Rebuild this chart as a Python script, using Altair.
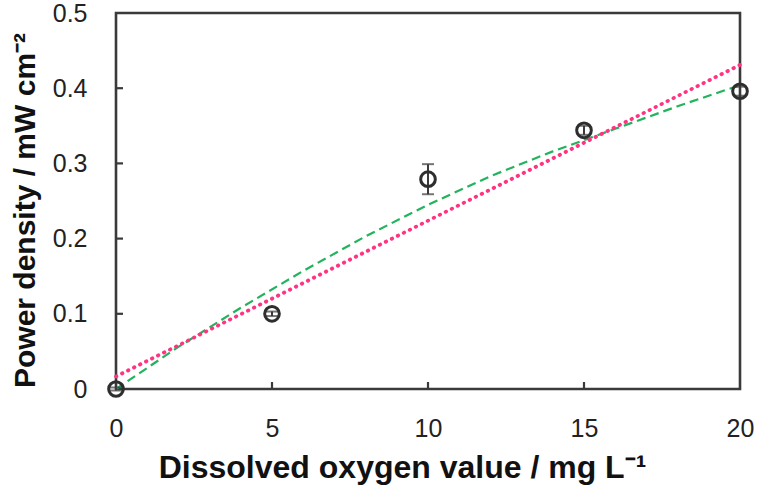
import altair as alt
import pandas as pd

# Measured power density against dissolved oxygen
oxygen = [0, 5, 10, 15, 20]
power = [0.0, 0.100, 0.279, 0.344, 0.396]
power_err = [0.002, 0.003, 0.020, 0.006, 0.006]

# Fitted trend curve (green dashed)
curve_x = [0, 2, 4, 6, 8, 10, 12, 14, 16, 18, 20]
curve_y = [0.0, 0.056, 0.108, 0.157, 0.203, 0.245, 0.283, 0.316, 0.346, 0.376, 0.404]

x_tick_values = [0, 5, 10, 15, 20]
y_tick_values = [0, 0.1, 0.2, 0.3, 0.4, 0.5]
x_inner_ticks = [5, 10, 15]
y_inner_ticks = [0.1, 0.2, 0.3, 0.4]

W, H = 624, 376
FONT = "Liberation Sans, Arial, sans-serif"
INK = "#3a3a3a"

points = pd.DataFrame({
    "x": oxygen,
    "y": power,
    "lo": [p - e for p, e in zip(power, power_err)],
    "hi": [p + e for p, e in zip(power, power_err)],
})
curve = pd.DataFrame({"x": curve_x, "y": curve_y})
xt = pd.DataFrame({"x": x_inner_ticks})
yt = pd.DataFrame({"y": y_inner_ticks})

xs = alt.Scale(domain=[0, 20], nice=False, zero=False)
ys = alt.Scale(domain=[0, 0.5], nice=False, zero=False)

x_axis = alt.Axis(
    values=x_tick_values, format="d", ticks=False, domain=False, grid=False,
    labelFlush=False, labelOverlap=False,
    labelFontSize=25, labelFont=FONT, labelColor="#222", labelPadding=27,
    title="Dissolved oxygen value / mg L\u207b\u00b9",
    titleFont=FONT, titleFontSize=32, titleFontWeight="bold", titleColor="#111",
    titleX=286, titleY=78, titleBaseline="middle", titleAlign="center",
)
y_axis = alt.Axis(
    values=y_tick_values, ticks=False, domain=False, grid=False,
    labelFlush=False, labelOverlap=False,
    labelExpr="datum.value == 0 ? '0' : format(datum.value, '.1f')",
    labelFontSize=25, labelFont=FONT, labelColor="#222", labelPadding=29,
    title="Power density / mW cm\u207b\u00b2",
    titleFont=FONT, titleFontSize=30, titleFontWeight="bold", titleColor="#111",
    titleX=-91, titleY=197, titleAngle=270, titleBaseline="middle", titleAlign="center",
)

X = alt.X("x:Q", scale=xs, axis=x_axis)
Y = alt.Y("y:Q", scale=ys, axis=y_axis)

trend = alt.Chart(curve).mark_line(
    color="#22b35c", strokeWidth=2.2, strokeDash=[9, 5]
).encode(x=X, y=Y)

linear = alt.Chart(points).transform_regression(
    "x", "y", method="linear"
).mark_line(
    color="#ff3380", strokeWidth=3.8, strokeDash=[0.5, 6.2], strokeCap="round"
).encode(x=X, y=Y)

err_rule = alt.Chart(points).mark_rule(color=INK, strokeWidth=2).encode(
    x=X, y=alt.Y("lo:Q", scale=ys, axis=y_axis), y2="hi:Q"
)
cap_lo = alt.Chart(points).mark_tick(
    color=INK, orient="horizontal", size=12, thickness=2
).encode(x=X, y=alt.Y("lo:Q", scale=ys, axis=y_axis))
cap_hi = alt.Chart(points).mark_tick(
    color=INK, orient="horizontal", size=12, thickness=2
).encode(x=X, y=alt.Y("hi:Q", scale=ys, axis=y_axis))

markers = alt.Chart(points).mark_point(
    shape="circle", filled=False, size=215, stroke="#2e2e2e", strokeWidth=3, opacity=1
).encode(x=X, y=Y)

bottom_ticks = alt.Chart(xt).mark_rule(color=INK, strokeWidth=2.2).encode(
    x=X, y=alt.value(H), y2=alt.value(H - 7)
)
left_ticks = alt.Chart(yt).mark_rule(color=INK, strokeWidth=2.2).encode(
    y=Y, x=alt.value(0), x2=alt.value(7)
)

chart = alt.layer(
    trend, linear, err_rule, cap_lo, cap_hi, markers, bottom_ticks, left_ticks
).properties(
    width=W, height=H,
    autosize=alt.AutoSizeParams(type="none"),
    padding={"left": 116, "top": 13, "right": 17, "bottom": 105},
    background="white",
).configure_view(stroke=INK, strokeWidth=2.6)

chart.save("out.html", embed_options={"renderer": "svg", "actions": False})
